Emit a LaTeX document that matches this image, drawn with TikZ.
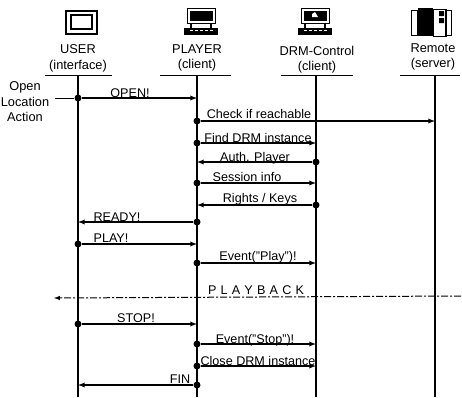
\documentclass[tikz,border=0pt]{standalone}
\usepackage{fontspec}
\setmainfont{Liberation Sans}
\usetikzlibrary{arrows,positioning}
\tikzset{
    headlabel/.style={
        align=center,
        inner sep=0pt,
        font=\fontsize{12.8}{15.5}\selectfont
    },
    msglabel/.style={
        anchor=base,
        inner sep=0pt,
        font=\fontsize{12.6}{14}\selectfont
    },
    msgdot/.style={
        circle,
        fill=black,
        inner sep=0pt,
        minimum size=7pt
    },
    lifeline/.style={draw, line width=1.2pt},
    headline/.style={draw, line width=0.9pt},
    msgline/.style={draw, line width=1.3pt, -latex}
}

\begin{document}
\begin{tikzpicture}[x=1pt, y=-1pt]
    \useasboundingbox (0,0) rectangle (462,397);

    % icons
    \draw[line width=1.3pt] (66,11) rectangle (97,34);
    \draw[line width=2pt] (71,15) rectangle (92,29);
    \foreach \cx/\w in {201/14, 315/14} {
        \draw[line width=1pt] (\cx-\w,8) rectangle (\cx+\w,23);
        \fill (\cx-\w+2.5,10.5) rectangle (\cx+\w-2.5,20.5);
        \draw[line width=1.2pt] (\cx-\w+4,23) -- (\cx-\w+4,28) (\cx+\w-4,23) -- (\cx+\w-4,28);
        \fill (\cx-\w-3,28) rectangle (\cx+\w+3,35);
        \draw[white, line width=0.8pt, dash pattern=on 3pt off 2pt] (\cx-\w+3,30) -- (\cx+\w,30);
    }
    \fill[white] (312,14) -- (315,12) -- (318,17) -- (312,17) -- cycle;
    \draw[line width=1pt] (411,10) rectangle (417,35);
    \draw[line width=1pt] (445,10) rectangle (451,35);
    \draw[line width=1pt] (433,9) rectangle (446,36);
    \fill (418,8) rectangle (433,36);
    \fill (439,11) rectangle (444,16) (439,18) rectangle (444,23);

    % headers
    \node[headlabel] (user) at (78,58.5) {USER\\(interface)};
    \node[headlabel] (player) at (197,58) {PLAYER\\(client)};
    \node[headlabel] (drm) at (317,59.5) {DRM-Control\\(client)};
    \node[headlabel] (remote) at (433,57) {Remote\\(server)};
    \node[headlabel] (action) at (25,102) {Open\\Location\\Action};

    % lifelines
    \foreach \name/\cx/\left/\right in {user/78/45/112, player/197/160/231, drm/316/281/353, remote/435/400/460} {
        \coordinate (\name-top) at (\cx,75);
        \coordinate (\name-bottom) at (\cx,397);
        \path[headline] (\left,75) -- (\right,75);
        \path[lifeline] (\name-top) -- (\name-bottom);
    }

    % messages
    \foreach \i/\from/\to/\row/\lx/\base/\txt in {
        1/user/player/98/130/97/{OPEN!},
        2/player/remote/121/259/118/{Check if reachable},
        3/player/drm/143/258/142/{Find DRM instance},
        4/drm/player/162/255/161/{Auth. Player},
        5/player/drm/183/247/181/{Session info},
        6/drm/player/205/260/202/{Rights / Keys},
        7/player/user/222/117/221/{READY!},
        8/user/player/244/111/242/{PLAY!},
        9/player/drm/263/258/260/{Event("Play")!},
        10/user/player/324/136/322/{STOP!},
        11/player/drm/344/255/343/{Event("Stop")!},
        12/player/drm/366/258/365/{Close DRM instance},
        13/player/user/385/180/383/{FIN}
    } {
        \node[msgdot] (start\i) at (\from-top |- 0,\row) {};
        \coordinate (end\i) at (\to-top |- 0,\row);
        \path[msgline] (start\i) -- (end\i);
        \node[msglabel] (label\i) at (\lx,\base) {\txt};
    }
    \coordinate (actionstart) at (55,98);
    \draw[line width=1pt] (actionstart) -- (start1);

    % playback
    \coordinate (playleft) at (54,298);
    \coordinate (playright) at (461,296);
    \draw[line width=1pt, dash pattern=on 7pt off 2pt on 2pt off 2pt, -latex] (playright) -- (playleft);
    \node[msglabel] (playback) at (256,294) {P\,\,L\,\,A\,\,Y\,\,B\,\,A\,\,C\,\,K};
\end{tikzpicture}
\end{document}
